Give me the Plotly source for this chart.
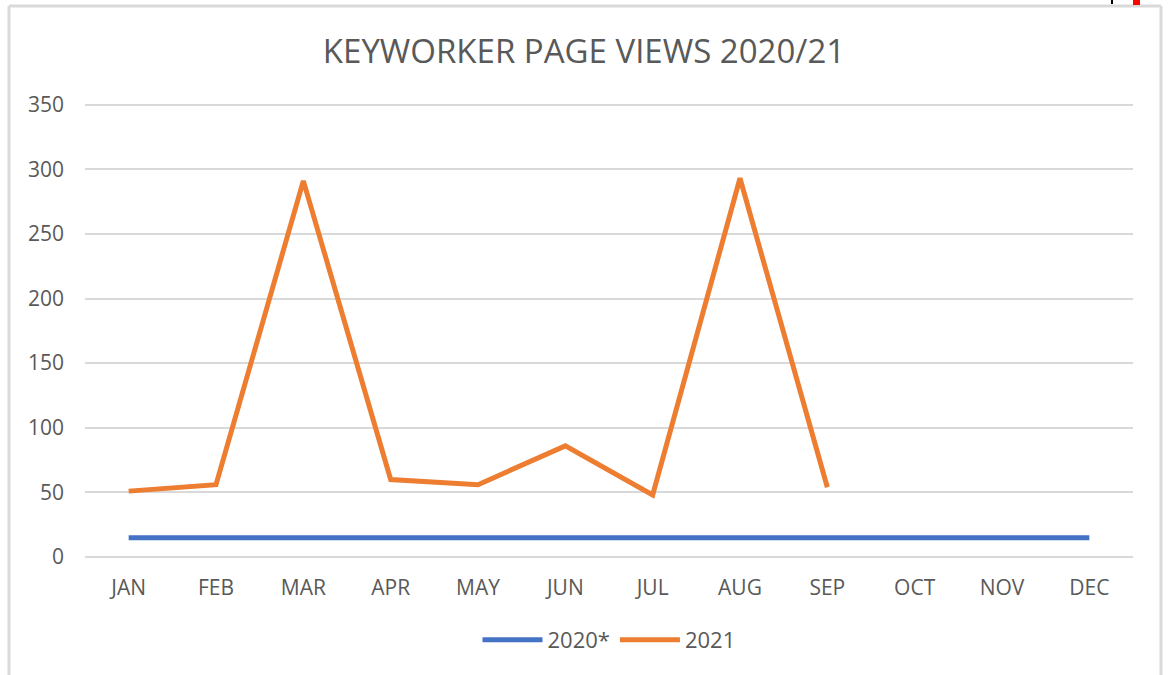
import plotly.graph_objects as go

months = ["JAN", "FEB", "MAR", "APR", "MAY", "JUN", "JUL", "AUG", "SEP", "OCT", "NOV", "DEC"]
values_2020 = [15, 15, 15, 15, 15, 15, 15, 15, 15, 15, 15, 15]
months_2021 = ["JAN", "FEB", "MAR", "APR", "MAY", "JUN", "JUL", "AUG", "SEP"]
values_2021 = [51, 56, 291, 60, 56, 86, 48, 293, 54]

FONT = "'Open Sans', Lato, sans-serif"
GRAY = "#595959"

fig = go.Figure()
fig.add_trace(go.Scatter(x=months, y=values_2020, mode="lines", name="2020*",
                         line=dict(color="#4472C4", width=5)))
fig.add_trace(go.Scatter(x=months_2021, y=values_2021, mode="lines", name="2021",
                         line=dict(color="#ED7D31", width=5)))

# plot area: x 85..1133, y 102..559 (px)
TOP, BOT = 102, 559
PH = float(BOT - TOP)
def py(px):
    return (BOT - px) / PH
def pxx(px):
    return (px - 85) / 1048.0

border = dict(color="#d9d9d9", width=3)
fig.add_shape(type="line", xref="paper", yref="paper", x0=pxx(9), x1=pxx(9), y0=py(6), y1=py(720), line=border)
fig.add_shape(type="line", xref="paper", yref="paper", x0=pxx(9), x1=pxx(1161), y0=py(6), y1=py(6), line=border)
fig.add_shape(type="line", xref="paper", yref="paper", x0=pxx(1161), x1=pxx(1161), y0=py(6), y1=py(720), line=border)
fig.add_shape(type="line", xref="paper", yref="paper", x0=pxx(1112), x1=pxx(1112), y0=py(-2), y1=py(4),
              line=dict(color="black", width=2))
fig.add_shape(type="rect", xref="paper", yref="paper", x0=pxx(1133), x1=pxx(1140), y0=py(-2), y1=py(5),
              line=dict(width=0), fillcolor="red")

fig.update_layout(
    width=1168, height=675,
    margin=dict(l=85, r=35, t=TOP, b=675 - BOT),
    paper_bgcolor="white", plot_bgcolor="white",
    font=dict(family=FONT, color=GRAY, size=21),
    title=dict(text="KEYWORKER PAGE VIEWS 2020/21", x=0.5, xanchor="center",
               y=1 - 51 / 675, yanchor="middle", font=dict(size=33, color=GRAY, family=FONT)),
    showlegend=True,
    legend=dict(orientation="h", x=0.5, xanchor="center", y=py(640), yanchor="middle",
                font=dict(size=22, color=GRAY), itemwidth=60),
)
fig.update_xaxes(type="category", range=[-0.5, 11.5], showgrid=False, showline=False, zeroline=False,
                 ticks="", ticklabelstandoff=14, tickfont=dict(size=21, color=GRAY))
fig.update_yaxes(range=[-1.5, 352], tickvals=[0, 50, 100, 150, 200, 250, 300, 350],
                 showgrid=True, gridcolor="#d9d9d9", gridwidth=1.5,
                 zeroline=False, showline=False, ticks="", ticklabelstandoff=20,
                 tickfont=dict(size=21, color=GRAY))

fig.write_html("out.html", config={"displayModeBar": False},
               post_script="document.body.style.margin='0';")
